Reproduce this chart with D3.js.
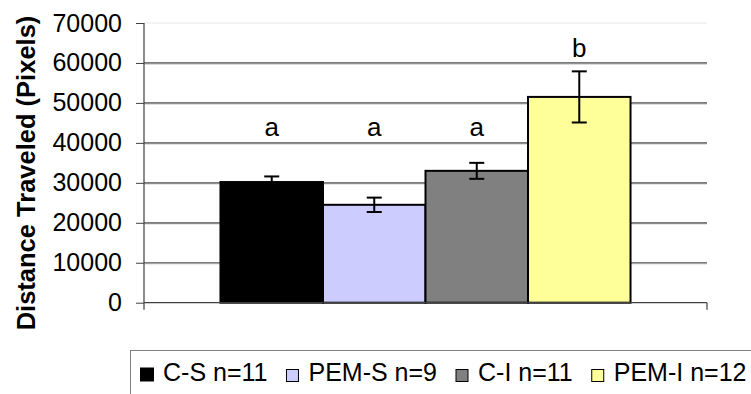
<!DOCTYPE html>
<html>
<head>
<meta charset="utf-8">
<script src="https://cdn.jsdelivr.net/npm/d3@7"></script>
<style>
  html, body { margin: 0; padding: 0; background: #fff; }
  svg { display: block; font-family: Arial, "Liberation Sans", sans-serif; }
</style>
</head>
<body>
<svg id="chart" width="751" height="394"></svg>
<script>
// Group labels, means and error (± one bar) for distance traveled
const groups = ["C-S", "PEM-S", "C-I", "PEM-I"];
const sampleSizes = [11, 9, 11, 12];
const means = [30200, 24500, 33000, 51500];
const errors = [1400, 1800, 2000, 6400];
const sigLetters = ["a", "a", "a", "b"];
const sigLevels = [41600, 41600, 41600, 61400];
const yTicks = [0, 10000, 20000, 30000, 40000, 50000, 60000, 70000];
const colors = ["#000000", "#ccccff", "#808080", "#ffff99"];

const svg = d3.select("#chart");
const plot = { left: 144, right: 707, top: 23, bottom: 302.7 };

const y = d3.scaleLinear().domain([0, 70000]).range([plot.bottom, plot.top]);
const x = d3.scaleBand().domain(groups)
  .range([plot.left, plot.right])
  .paddingInner(0).paddingOuter(0.746);

// Horizontal gridlines
const grid = svg.append("g");
yTicks.filter(t => t > 0 && t < 70000).forEach(t => {
  grid.append("line").attr("x1", plot.left).attr("x2", plot.right)
    .attr("y1", y(t) + 1).attr("y2", y(t) + 1)
    .attr("stroke", "#b0b0b0").attr("stroke-width", 1);
  grid.append("line").attr("x1", plot.left).attr("x2", plot.right)
    .attr("y1", y(t)).attr("y2", y(t))
    .attr("stroke", "#505050").attr("stroke-width", 1.2);
});
grid.append("line").attr("x1", plot.left).attr("x2", plot.right)
  .attr("y1", y(70000)).attr("y2", y(70000))
  .attr("stroke", "#e6e6e6").attr("stroke-width", 1);

// Y axis with outward ticks
const yAxis = d3.axisLeft(y).tickValues(yTicks).tickSize(8).tickPadding(14)
  .tickFormat(d3.format("d"));
const ya = svg.append("g").attr("transform", `translate(${plot.left},0)`).call(yAxis);
ya.select(".domain").remove();
ya.selectAll(".tick line").attr("stroke", "#404040");
ya.selectAll(".tick text").attr("font-size", 25).attr("fill", "#000")
  .attr("font-family", "Arial, 'Liberation Sans', sans-serif");
svg.append("line").attr("x1", plot.left).attr("x2", plot.left)
  .attr("y1", plot.top).attr("y2", plot.bottom + 7)
  .attr("stroke", "#404040").attr("stroke-width", 1.2);

// Bars
svg.append("g").selectAll("rect").data(groups).join("rect")
  .attr("x", d => x(d))
  .attr("y", (d, i) => y(means[i]))
  .attr("width", x.bandwidth())
  .attr("height", (d, i) => y(0) - y(means[i]))
  .attr("fill", (d, i) => colors[i])
  .attr("stroke", "#000").attr("stroke-width", 2);

// X axis baseline
svg.append("line").attr("x1", plot.left).attr("x2", plot.right)
  .attr("y1", plot.bottom).attr("y2", plot.bottom)
  .attr("stroke", "#404040").attr("stroke-width", 1.2);
svg.append("line").attr("x1", plot.right).attr("x2", plot.right)
  .attr("y1", plot.bottom).attr("y2", plot.bottom + 7)
  .attr("stroke", "#404040").attr("stroke-width", 1.2);

// Error bars
const eb = svg.append("g").attr("stroke", "#000").attr("stroke-width", 2);
groups.forEach((g, i) => {
  const cx = x(g) + x.bandwidth() / 2;
  const hi = y(means[i] + errors[i]), lo = y(means[i] - errors[i]);
  eb.append("line").attr("x1", cx).attr("x2", cx).attr("y1", hi).attr("y2", lo);
  eb.append("line").attr("x1", cx - 7.5).attr("x2", cx + 7.5).attr("y1", hi).attr("y2", hi);
  eb.append("line").attr("x1", cx - 7.5).attr("x2", cx + 7.5).attr("y1", lo).attr("y2", lo);
});

// Significance letters
svg.append("g").selectAll("text").data(groups).join("text")
  .attr("x", d => x(d) + x.bandwidth() / 2)
  .attr("y", (d, i) => y(sigLevels[i]))
  .attr("text-anchor", "middle")
  .attr("font-size", 26)
  .text((d, i) => sigLetters[i]);

// Y axis title
svg.append("text")
  .attr("transform", "translate(35,173) rotate(-90)")
  .attr("text-anchor", "middle")
  .attr("font-size", 25.5).attr("font-weight", "bold")
  .text("Distance Traveled (Pixels)");

// Legend
const legend = svg.append("g");
legend.append("rect").attr("x", 130.5).attr("y", 350.5)
  .attr("width", 640).attr("height", 60)
  .attr("fill", "#fff").attr("stroke", "#808080").attr("stroke-width", 1);
let lx = 140;
groups.forEach((g, i) => {
  const s = i === 0 ? 14 : 12;
  legend.append("rect").attr("x", lx + (14 - s) / 2).attr("y", 381.5 - s)
    .attr("width", s).attr("height", s)
    .attr("fill", colors[i]).attr("stroke", "#000").attr("stroke-width", i === 0 ? 0 : 1);
  const t = legend.append("text").attr("x", lx + 23).attr("y", 381)
    .attr("font-size", 25).text(`${g} n=${sampleSizes[i]}`);
  lx += 23 + t.node().getComputedTextLength() + 18;
});
</script>
</body>
</html>
